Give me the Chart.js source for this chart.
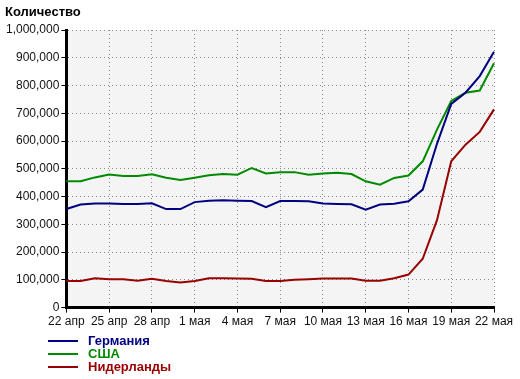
<!DOCTYPE html>
<html>
<head>
<meta charset="utf-8">
<script src="https://cdn.jsdelivr.net/npm/chart.js@4.4.1/dist/chart.umd.min.js"></script>
<style>
  html, body { margin: 0; padding: 0; background: #fff; }
  #wrap { position: relative; width: 520px; height: 379px; font-family: "Liberation Sans", Arial, sans-serif; }
  #c { position: absolute; left: 0; top: 0; }
  #title { position: absolute; left: 5px; top: 4px; font-size: 13px; font-weight: bold; color: #000; line-height: 16px; }
  #legend { position: absolute; left: 48px; top: 334px; }
  .item { position: relative; height: 13px; line-height: 13px; font-size: 13px; font-weight: bold; white-space: nowrap; }
  .swatch { position: absolute; left: 0; top: 6px; width: 30px; height: 2px; }
  .lbl { position: absolute; left: 40px; top: 0; }
</style>
</head>
<body>
<div id="wrap">
  <canvas id="c" width="520" height="379"></canvas>
  <div id="title">Количество</div>
  <div id="legend"></div>
</div>
<script>
// Categories (daily, 22 апр .. 22 мая)
const dates = [
  "22 апр","23 апр","24 апр","25 апр","26 апр","27 апр","28 апр","29 апр","30 апр",
  "1 мая","2 мая","3 мая","4 мая","5 мая","6 мая","7 мая","8 мая","9 мая","10 мая",
  "11 мая","12 мая","13 мая","14 мая","15 мая","16 мая","17 мая","18 мая","19 мая",
  "20 мая","21 мая","22 мая"
];
// Tick labels shown on the x axis
const tickLabels = ["22 апр","25 апр","28 апр","1 мая","4 мая","7 мая","10 мая","13 мая","16 мая","19 мая","22 мая"];
// Series
const seriesNames = ["Германия", "США", "Нидерланды"];
const germany = [355000,371000,375000,375000,373000,373000,376000,355000,355000,380000,385000,387000,385000,384000,362000,384000,384000,383000,375000,373000,372000,353000,371000,374000,383000,425000,590000,734000,774000,834000,922000];
const usa = [455000,455000,469000,479000,474000,474000,480000,468000,460000,468000,477000,481000,479000,503000,483000,488000,488000,479000,483000,486000,481000,455000,443000,467000,476000,527000,641000,744000,774000,782000,880000];
const netherlands = [96000,96000,106000,102000,102000,97000,104000,96000,90000,96000,106000,106000,105000,104000,96000,96000,100000,102000,105000,105000,105000,97000,97000,106000,119000,176000,315000,527000,587000,633000,714000];
// Y tick values
const yTicks = [0,100000,200000,300000,400000,500000,600000,700000,800000,900000,1000000];

const colors = ["#000080", "#008a00", "#990000"];
const seriesData = [germany, usa, netherlands];

const plotBg = {
  id: 'plotBg',
  beforeDraw(chart) {
    const {ctx, chartArea: a} = chart;
    ctx.save();
    ctx.fillStyle = '#f4f4f4';
    ctx.fillRect(a.left, a.top, a.right - a.left, a.bottom - a.top);
    ctx.restore();
  }
};

const font = { family: "'Liberation Sans', Arial, sans-serif", size: 12 };

new Chart(document.getElementById('c'), {
  type: 'line',
  data: {
    labels: dates,
    datasets: seriesNames.map((n, i) => ({
      label: n,
      data: seriesData[i],
      borderColor: colors[i],
      backgroundColor: colors[i],
      borderWidth: 2,
      pointRadius: 0,
      tension: 0,
      fill: false
    }))
  },
  options: {
    responsive: false,
    animation: false,
    layout: { padding: { left: 4, right: 26, top: 30, bottom: 48 } },
    plugins: { legend: { display: false }, tooltip: { enabled: false } },
    scales: {
      x: {
        type: 'category',
        offset: false,
        grid: {
          color: ctx => (ctx.index % 3 === 0 ? '#8a8a8a' : 'rgba(0,0,0,0)'),
          tickColor: ctx => (ctx.index % 3 === 0 ? '#000' : 'rgba(0,0,0,0)'),
          tickLength: 5,
          tickWidth: 1,
          lineWidth: 1
        },
        border: { display: true, color: '#000', width: 3, dash: [1, 3] },
        ticks: {
          autoSkip: false,
          maxRotation: 0,
          minRotation: 0,
          padding: 2,
          color: '#111',
          font: font,
          callback: function(v, i) {
            const l = dates[i];
            return tickLabels.includes(l) && i % 3 === 0 ? l : '';
          }
        }
      },
      y: {
        min: 0,
        max: 1000000,
        afterBuildTicks: axis => { axis.ticks = yTicks.map(v => ({ value: v })); },
        grid: { color: '#8a8a8a', tickColor: '#000', tickLength: 5, tickWidth: 1, lineWidth: 1 },
        border: { display: true, color: '#000', width: 3, dash: [1, 3] },
        ticks: {
          padding: 2,
          color: '#111',
          font: font,
          callback: v => v.toLocaleString('en-US')
        }
      }
    }
  },
  plugins: [plotBg]
});

const legend = document.getElementById('legend');
seriesNames.forEach((n, i) => {
  const d = document.createElement('div');
  d.className = 'item';
  d.innerHTML = '<span class="swatch" style="background:' + colors[i] + '"></span><span class="lbl" style="color:' + colors[i] + '">' + n + '</span>';
  legend.appendChild(d);
});
</script>
</body>
</html>
